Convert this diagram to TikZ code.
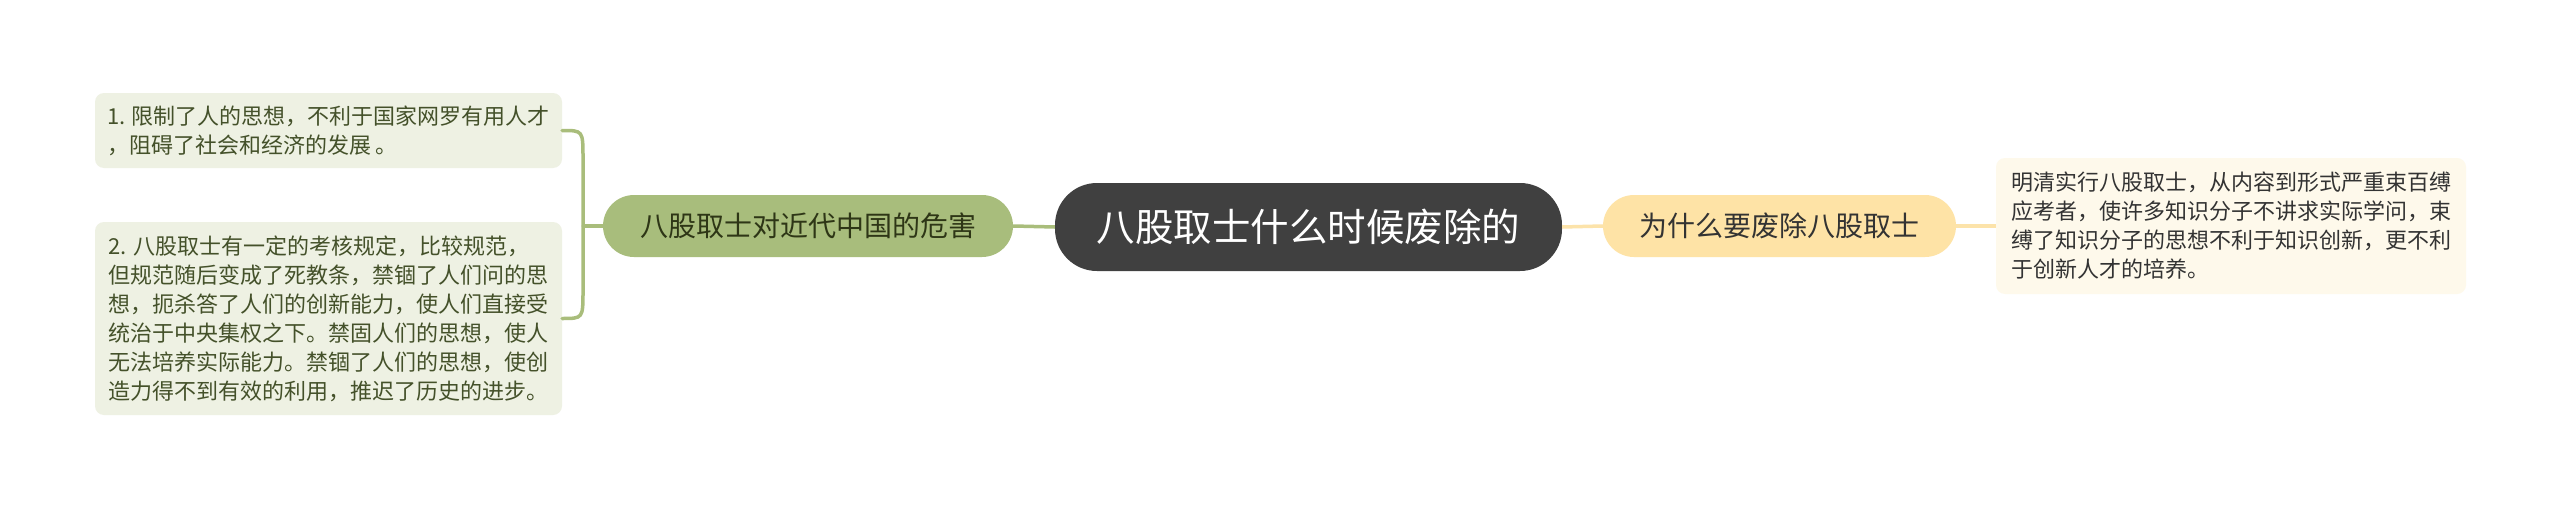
\documentclass[tikz,border=0pt]{standalone}
\usepackage{fontspec}
\newfontfamily\cjk{Noto Sans CJK SC}
\usetikzlibrary{calc}
\definecolor{gline}{HTML}{A9BD7B}
\definecolor{gmain}{HTML}{A8BD7C}
\definecolor{gleaf}{HTML}{EEF1E3}
\definecolor{gtext}{HTML}{44512A}
\definecolor{gmaintext}{HTML}{2E3616}
\definecolor{cfill}{HTML}{404040}
\definecolor{yline}{HTML}{FCE3AA}
\definecolor{ymain}{HTML}{FEE3A6}
\definecolor{yleaf}{HTML}{FEF9EB}
\definecolor{dtext}{HTML}{333333}
\tikzset{
  pill/.style={inner sep=0pt, rounded corners=31pt, minimum height=62pt, font=\cjk\fontsize{28}{34}\selectfont},
  centrebox/.style={fill=cfill, text=white, inner sep=0pt, rounded corners=42pt, minimum width=507pt, minimum height=88pt, font=\cjk\fontsize{38.5}{46}\selectfont},
  leafbox/.style={inner sep=0pt, rounded corners=9pt, align=left, font=\cjk\fontsize{22}{29}\selectfont},
  gconn/.style={draw=gline, line width=3.5pt},
  yconn/.style={draw=yline, line width=3.5pt}
}
\begin{document}
\begin{tikzpicture}[x=1pt,y=-1pt]
\path[use as bounding box, fill=white] (0,0) rectangle (2560,511);
% nodes
\node[centrebox] (cm) at (1308.5,227) {八股取士什么时候废除的};
\node[pill, fill=gmain, text=gmaintext, minimum width=410pt] (lm) at (808,226) {八股取士对近代中国的危害};
\node[pill, fill=ymain, text=dtext, minimum width=353pt] (rm) at (1779.5,226) {为什么要废除八股取士};
\node[leafbox, fill=gleaf, text=gtext, minimum width=467pt, minimum height=75pt] (l1) at (328.5,130.5)
 {1. 限制了人的思想，不利于国家网罗有用人才\\，阻碍了社会和经济的发展 。};
\node[leafbox, fill=gleaf, text=gtext, minimum width=467pt, minimum height=193pt] (l2) at (328.5,318.5)
 {2. 八股取士有一定的考核规定，比较规范，\\但规范随后变成了死教条，禁锢了人们问的思\\想，扼杀答了人们的创新能力，使人们直接受\\统治于中央集权之下。禁固人们的思想，使人\\无法培养实际能力。禁锢了人们的思想，使创\\造力得不到有效的利用，推迟了历史的进步。};
\node[leafbox, fill=yleaf, text=dtext, minimum width=470pt, minimum height=136pt] (rl) at (2231,226)
 {明清实行八股取士，从内容到形式严重束百缚\\应考者，使许多知识分子不讲求实际学问，束\\缚了知识分子的思想不利于知识创新，更不利\\于创新人才的培养。};
\coordinate (J) at (583,226);
% connectors
\draw[gconn] (lm.east) -- (cm.west);
\draw[gconn] (lm.west) -- (J);
\draw[gconn, line cap=round] (l1.east) .. controls (J|-l1.east) .. ($(J|-l1.east)+(0,28)$) -- (J);
\draw[gconn, line cap=round] (l2.east) .. controls (J|-l2.east) .. ($(J|-l2.east)+(0,-28)$) -- (J);
\draw[yconn] (cm.east) -- (rm.west);
\draw[yconn] (rm.east) -- (rl.west);
\end{tikzpicture}
\end{document}
